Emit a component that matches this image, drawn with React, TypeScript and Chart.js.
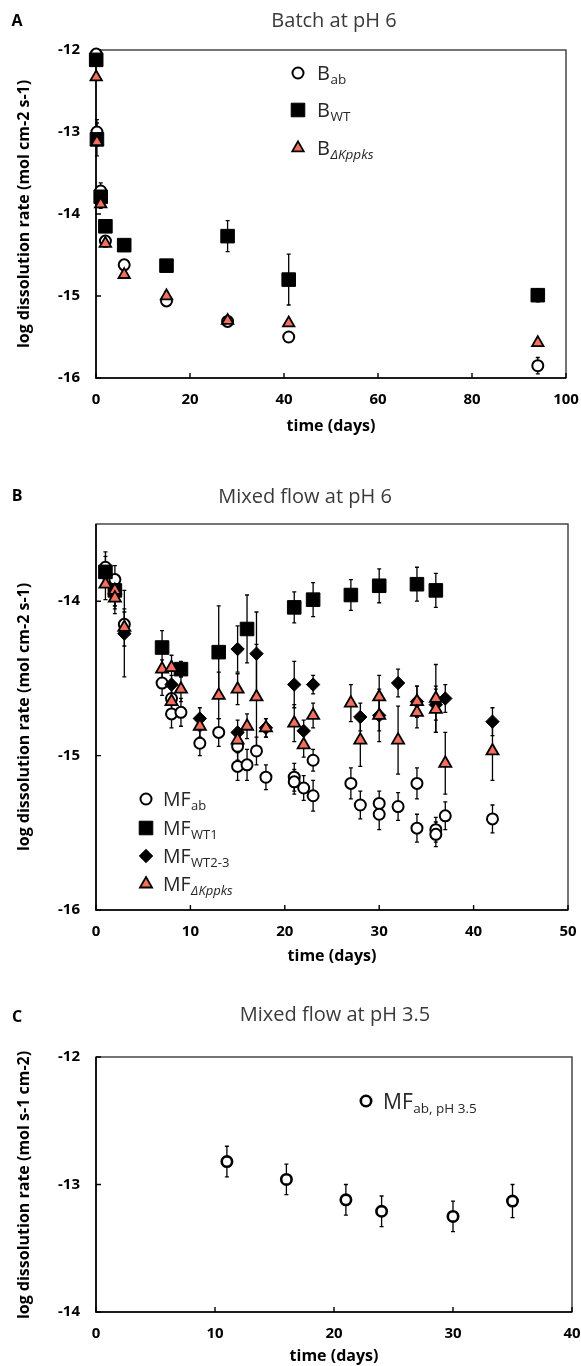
import React, { useEffect, useRef } from 'react';
import { Chart, registerables } from 'chart.js';

Chart.register(...registerables);

const FONT = '"Open Sans", "Noto Sans", sans-serif';

// ---------------- Panel A: Batch at pH 6 ----------------
const A_DAYS = [0.04, 0.2, 1, 2, 6, 15, 28, 41, 94];
const A_AB = [-12.05, -13.0, -13.72, -14.33, -14.62, -15.06, -15.31, -15.5, -15.85];
const A_AB_ERR = [0.03, 0.15, 0.1, 0.06, 0.04, 0.03, 0.04, 0.03, 0.1];
const A_WT = [-12.12, -13.09, -13.79, -14.15, -14.38, -14.63, -14.27, -14.8, -14.99];
const A_WT_ERR = [0.03, 0.2, 0.05, 0.05, 0.04, 0.03, 0.19, 0.31, 0.08];
const A_KP = [-12.33, -13.12, -13.88, -14.36, -14.74, -15.0, -15.3, -15.33, -15.57];
const A_KP_ERR = [0.03, 0.05, 0.05, 0.04, 0.04, 0.05, 0.05, 0.03, 0.04];
const A_X_TICKS = [0, 20, 40, 60, 80, 100];
const A_Y_TICKS = [-16, -15, -14, -13, -12];

// ---------------- Panel B: Mixed flow at pH 6 ----------------
const B_AB_DAYS = [1, 2, 3, 7, 8, 8, 9, 11, 13, 15, 15, 16, 17, 18, 21, 21, 22, 23, 23, 27, 28, 30, 30, 32, 34, 34, 36, 36, 37, 42];
const B_AB = [-13.78, -13.86, -14.15, -14.53, -14.63, -14.73, -14.72, -14.92, -14.85, -14.94, -15.07, -15.06, -14.97, -15.14, -15.14, -15.17, -15.21, -15.03, -15.26, -15.18, -15.32, -15.31, -15.38, -15.33, -15.18, -15.47, -15.48, -15.51, -15.39, -15.41];
const B_AB_ERR = [0.1, 0.09, 0.08, 0.08, 0.1, 0.09, 0.09, 0.08, 0.09, 0.09, 0.09, 0.1, 0.09, 0.08, 0.09, 0.08, 0.08, 0.07, 0.1, 0.1, 0.09, 0.08, 0.1, 0.09, 0.1, 0.09, 0.08, 0.08, 0.09, 0.09];

const B_WT1_DAYS = [1, 2, 7, 9, 13, 16, 21, 23, 27, 30, 34, 36];
const B_WT1 = [-13.81, -13.93, -14.3, -14.44, -14.33, -14.18, -14.04, -13.99, -13.96, -13.9, -13.89, -13.93];
const B_WT1_ERR = [0.1, 0.1, 0.11, 0.05, 0.3, 0.22, 0.1, 0.11, 0.1, 0.11, 0.11, 0.11];

const B_WT23_DAYS = [1, 2, 3, 8, 11, 15, 15, 17, 18, 21, 22, 23, 28, 30, 32, 34, 36, 37, 42];
const B_WT23 = [-13.83, -13.95, -14.21, -14.54, -14.76, -14.31, -14.85, -14.34, -14.82, -14.54, -14.84, -14.54, -14.75, -14.74, -14.53, -14.65, -14.67, -14.63, -14.78];
const B_WT23_ERR = [0.08, 0.1, 0.28, 0.06, 0.07, 0.15, 0.08, 0.27, 0.06, 0.15, 0.07, 0.06, 0.09, 0.1, 0.09, 0.1, 0.1, 0.09, 0.09];

const B_KP_DAYS = [1, 2, 2, 3, 7, 8, 8, 9, 11, 13, 15, 15, 16, 17, 18, 21, 22, 23, 27, 28, 30, 30, 32, 34, 34, 36, 36, 37, 42];
const B_KP = [-13.89, -13.93, -13.98, -14.17, -14.44, -14.43, -14.65, -14.57, -14.81, -14.61, -14.57, -14.9, -14.81, -14.62, -14.82, -14.79, -14.93, -14.74, -14.66, -14.9, -14.62, -14.74, -14.9, -14.65, -14.72, -14.63, -14.7, -15.05, -14.97];
const B_KP_ERR = [0.1, 0.1, 0.1, 0.12, 0.06, 0.08, 0.08, 0.08, 0.07, 0.15, 0.1, 0.08, 0.08, 0.34, 0.06, 0.12, 0.08, 0.08, 0.12, 0.17, 0.14, 0.17, 0.22, 0.1, 0.1, 0.22, 0.15, 0.2, 0.19];

const B_X_TICKS = [0, 10, 20, 30, 40, 50];
const B_Y_TICKS = [-16, -15, -14];

// ---------------- Panel C: Mixed flow at pH 3.5 ----------------
const C_DAYS = [11, 16, 21, 24, 30, 35];
const C_AB = [-12.82, -12.96, -13.12, -13.21, -13.25, -13.13];
const C_AB_ERR = [0.12, 0.12, 0.12, 0.12, 0.12, 0.13];
const C_X_TICKS = [0, 10, 20, 30, 40];
const C_Y_TICKS = [-14, -13, -12];

type MarkerSpec = { pointStyle: string; radius: number; bg: string; border: string; bw: number };

const SALMON = '#F4705E';
const M_CIRCLE: MarkerSpec = { pointStyle: 'circle', radius: 5.5, bg: '#ffffff', border: '#000000', bw: 2 };
const M_CIRCLE_C: MarkerSpec = { pointStyle: 'circle', radius: 5.2, bg: '#ffffff', border: '#000000', bw: 2.6 };
const M_SQUARE: MarkerSpec = { pointStyle: 'rect', radius: 9.6, bg: '#000000', border: '#000000', bw: 1 };
const M_DIAMOND: MarkerSpec = { pointStyle: 'rectRot', radius: 6.7, bg: '#000000', border: '#000000', bw: 1 };
const M_TRI_A: MarkerSpec = { pointStyle: 'triangle', radius: 6.6, bg: SALMON, border: '#000000', bw: 1.8 };
const M_TRI_B: MarkerSpec = { pointStyle: 'triangle', radius: 7, bg: SALMON, border: '#000000', bw: 1.8 };

type Series = { days: number[]; values: number[]; errors: number[]; marker: MarkerSpec; order: number };
type LegendItem = { marker: MarkerSpec; main: string; sub: string; italic?: boolean };
type TextItem = { text: string; x: number; y: number; size: number; bold?: boolean; color?: string; rotate?: boolean };

type Panel = {
  width: number;
  height: number;
  top: number;
  area: { left: number; right: number; top: number; bottom: number };
  xMin: number; xMax: number; xTicks: number[];
  yMin: number; yMax: number; yTicks: number[];
  series: Series[];
  legend: { markerX: number; textX: number; ys: number[]; size: number; subSize: number; items: LegendItem[] };
  texts: TextItem[];
};

function drawMarker(ctx: CanvasRenderingContext2D, m: MarkerSpec, x: number, y: number) {
  ctx.save();
  ctx.fillStyle = m.bg;
  ctx.strokeStyle = m.border;
  ctx.lineWidth = m.bw;
  ctx.beginPath();
  const r = m.radius;
  if (m.pointStyle === 'circle') {
    ctx.arc(x, y, r, 0, Math.PI * 2);
  } else if (m.pointStyle === 'rect') {
    const s = Math.SQRT1_2 * r;
    ctx.rect(x - s, y - s, 2 * s, 2 * s);
  } else if (m.pointStyle === 'rectRot') {
    ctx.moveTo(x, y - r);
    ctx.lineTo(x + r, y);
    ctx.lineTo(x, y + r);
    ctx.lineTo(x - r, y);
    ctx.closePath();
  } else {
    ctx.moveTo(x, y - r);
    ctx.lineTo(x + r * Math.sin((2 * Math.PI) / 3), y - r * Math.cos((2 * Math.PI) / 3));
    ctx.lineTo(x - r * Math.sin((2 * Math.PI) / 3), y - r * Math.cos((2 * Math.PI) / 3));
    ctx.closePath();
  }
  ctx.fill();
  if (m.bw > 0) ctx.stroke();
  ctx.restore();
}

function makeDecor(p: Panel) {
  return {
    id: 'panelDecor',
    beforeDatasetsDraw(chart: any) {
      const ctx: CanvasRenderingContext2D = chart.ctx;
      const a = chart.chartArea;
      const xs = chart.scales.x;
      const ys = chart.scales.y;
      ctx.save();
      // frame
      ctx.strokeStyle = '#3a3a3a';
      ctx.lineWidth = 1.4;
      ctx.strokeRect(a.left, a.top, a.right - a.left, a.bottom - a.top);
      ctx.strokeStyle = '#000';
      ctx.lineWidth = 1.6;
      ctx.beginPath();
      ctx.moveTo(a.left, a.top);
      ctx.lineTo(a.left, a.bottom);
      ctx.lineTo(a.right, a.bottom);
      ctx.stroke();
      // inward tick marks
      ctx.lineWidth = 1.4;
      ctx.beginPath();
      p.xTicks.forEach((v) => {
        const px = xs.getPixelForValue(v);
        ctx.moveTo(px, a.bottom);
        ctx.lineTo(px, a.bottom - 5);
      });
      p.yTicks.forEach((v) => {
        const py = ys.getPixelForValue(v);
        ctx.moveTo(a.left, py);
        ctx.lineTo(a.left + 5, py);
      });
      ctx.stroke();
      // error bars
      ctx.strokeStyle = '#000';
      ctx.lineWidth = 1.3;
      chart.data.datasets.forEach((ds: any) => {
        const errs: number[] = ds.errors || [];
        ds.data.forEach((pt: any, i: number) => {
          const e = errs[i] || 0;
          if (!e) return;
          const px = xs.getPixelForValue(pt.x);
          const y1 = ys.getPixelForValue(pt.y + e);
          const y2 = ys.getPixelForValue(pt.y - e);
          ctx.beginPath();
          ctx.moveTo(px, y1);
          ctx.lineTo(px, y2);
          ctx.moveTo(px - 2, y1);
          ctx.lineTo(px + 2, y1);
          ctx.moveTo(px - 2, y2);
          ctx.lineTo(px + 2, y2);
          ctx.stroke();
        });
      });
      ctx.restore();
    },
    afterDraw(chart: any) {
      const ctx: CanvasRenderingContext2D = chart.ctx;
      ctx.save();
      // legend
      const lg = p.legend;
      lg.items.forEach((it, i) => {
        const y = lg.ys[i];
        drawMarker(ctx, it.marker, lg.markerX, y);
        ctx.fillStyle = '#262626';
        ctx.textAlign = 'left';
        ctx.textBaseline = 'alphabetic';
        ctx.font = `${lg.size}px ${FONT}`;
        const base = y + lg.size * 0.36;
        ctx.fillText(it.main, lg.textX, base);
        const w = ctx.measureText(it.main).width;
        ctx.font = `${it.italic ? 'italic ' : ''}${lg.subSize}px ${FONT}`;
        ctx.fillText(it.sub, lg.textX + w + 0.5, base + lg.size * 0.2);
      });
      // texts
      p.texts.forEach((t) => {
        ctx.save();
        ctx.fillStyle = t.color || '#000';
        ctx.font = `${t.bold ? 'bold ' : ''}${t.size}px ${FONT}`;
        ctx.textAlign = 'center';
        ctx.textBaseline = 'middle';
        ctx.translate(t.x, t.y);
        if (t.rotate) ctx.rotate(-Math.PI / 2);
        ctx.fillText(t.text, 0, 0);
        ctx.restore();
      });
      ctx.restore();
    },
  };
}

function buildConfig(p: Panel): any {
  const tickFont = { family: FONT, size: 15, weight: 'bold' };
  return {
    type: 'scatter',
    data: {
      datasets: p.series.map((s) => ({
        data: s.days.map((d, i) => ({ x: d, y: s.values[i] })),
        errors: s.errors,
        order: s.order,
        pointStyle: s.marker.pointStyle,
        pointRadius: s.marker.radius,
        pointBackgroundColor: s.marker.bg,
        pointBorderColor: s.marker.border,
        pointBorderWidth: s.marker.bw,
        showLine: false,
        clip: false,
      })),
    },
    options: {
      responsive: false,
      animation: false,
      events: [],
      layout: { padding: { left: 0, top: p.area.top, right: p.width - p.area.right, bottom: 0 } },
      plugins: { legend: { display: false }, tooltip: { enabled: false }, title: { display: false } },
      scales: {
        x: {
          type: 'linear',
          min: p.xMin,
          max: p.xMax,
          afterBuildTicks: (s: any) => {
            s.ticks = p.xTicks.map((v) => ({ value: v }));
          },
          afterFit: (s: any) => {
            s.height = p.height - p.area.bottom;
            s.paddingLeft = 0;
            s.paddingRight = 0;
          },
          ticks: { font: tickFont, color: '#000', padding: 13, maxRotation: 0, autoSkip: false, callback: (v: number) => String(v) },
          grid: { display: false, drawTicks: false },
          border: { display: false },
        },
        y: {
          type: 'linear',
          min: p.yMin,
          max: p.yMax,
          afterBuildTicks: (s: any) => {
            s.ticks = p.yTicks.map((v) => ({ value: v }));
          },
          afterFit: (s: any) => {
            s.width = p.area.left;
            s.paddingTop = 0;
            s.paddingBottom = 0;
          },
          ticks: { font: tickFont, color: '#000', padding: 16, autoSkip: false, callback: (v: number) => String(v) },
          grid: { display: false, drawTicks: false },
          border: { display: false },
        },
      },
    },
    plugins: [makeDecor(p)],
  };
}

const W = 581;

const PANEL_A: Panel = {
  width: W,
  height: 440,
  top: 0,
  area: { left: 96, right: 566, top: 50, bottom: 378 },
  xMin: 0, xMax: 100, xTicks: A_X_TICKS,
  yMin: -16, yMax: -12, yTicks: A_Y_TICKS,
  series: [
    { days: A_DAYS, values: A_AB, errors: A_AB_ERR, marker: M_CIRCLE, order: 2 },
    { days: A_DAYS, values: A_WT, errors: A_WT_ERR, marker: M_SQUARE, order: 1 },
    { days: A_DAYS, values: A_KP, errors: A_KP_ERR, marker: M_TRI_A, order: 0 },
  ],
  legend: {
    markerX: 298,
    textX: 317,
    ys: [73, 110, 148],
    size: 20,
    subSize: 13.5,
    items: [
      { marker: M_CIRCLE, main: 'B', sub: 'ab' },
      { marker: M_SQUARE, main: 'B', sub: 'WT' },
      { marker: M_TRI_A, main: 'B', sub: 'ΔKppks', italic: true },
    ],
  },
  texts: [
    { text: 'A', x: 17, y: 21, size: 16, bold: true },
    { text: 'Batch at pH 6', x: 334, y: 21, size: 20, color: '#3a3a3a' },
    { text: 'log dissolution rate (mol cm-2 s-1)', x: 24, y: 214, size: 16, bold: true, rotate: true },
    { text: 'time (days)', x: 331, y: 426, size: 16, bold: true },
  ],
};

const PANEL_B: Panel = {
  width: W,
  height: 535,
  top: 440,
  area: { left: 96, right: 568, top: 84, bottom: 470 },
  xMin: 0, xMax: 50, xTicks: B_X_TICKS,
  yMin: -16, yMax: -13.5, yTicks: B_Y_TICKS,
  series: [
    { days: B_AB_DAYS, values: B_AB, errors: B_AB_ERR, marker: M_CIRCLE, order: 3 },
    { days: B_WT1_DAYS, values: B_WT1, errors: B_WT1_ERR, marker: M_SQUARE, order: 2 },
    { days: B_WT23_DAYS, values: B_WT23, errors: B_WT23_ERR, marker: M_DIAMOND, order: 1 },
    { days: B_KP_DAYS, values: B_KP, errors: B_KP_ERR, marker: M_TRI_B, order: 0 },
  ],
  legend: {
    markerX: 146,
    textX: 163,
    ys: [359, 388, 416, 444],
    size: 19.5,
    subSize: 13,
    items: [
      { marker: M_CIRCLE, main: 'MF', sub: 'ab' },
      { marker: M_SQUARE, main: 'MF', sub: 'WT1' },
      { marker: M_DIAMOND, main: 'MF', sub: 'WT2-3' },
      { marker: M_TRI_B, main: 'MF', sub: 'ΔKppks', italic: true },
    ],
  },
  texts: [
    { text: 'B', x: 17, y: 56, size: 16, bold: true },
    { text: 'Mixed flow at pH 6', x: 305, y: 57, size: 20, color: '#3a3a3a' },
    { text: 'log dissolution rate (mol cm-2 s-1)', x: 24, y: 277, size: 16, bold: true, rotate: true },
    { text: 'time (days)', x: 332, y: 516, size: 16, bold: true },
  ],
};

const PANEL_C: Panel = {
  width: W,
  height: 391,
  top: 975,
  area: { left: 96, right: 572, top: 82, bottom: 337 },
  xMin: 0, xMax: 40, xTicks: C_X_TICKS,
  yMin: -14, yMax: -12, yTicks: C_Y_TICKS,
  series: [{ days: C_DAYS, values: C_AB, errors: C_AB_ERR, marker: M_CIRCLE_C, order: 0 }],
  legend: {
    markerX: 366,
    textX: 383,
    ys: [126],
    size: 21,
    subSize: 13.5,
    items: [{ marker: M_CIRCLE_C, main: 'MF', sub: 'ab, pH 3.5' }],
  },
  texts: [
    { text: 'C', x: 17, y: 42, size: 16, bold: true },
    { text: 'Mixed flow at pH 3.5', x: 335, y: 40, size: 20, color: '#3a3a3a' },
    { text: 'log dissolution rate (mol s-1 cm-2)', x: 24, y: 210, size: 16, bold: true, rotate: true },
    { text: 'time (days)', x: 334, y: 381, size: 16, bold: true },
  ],
};

function PanelChart({ panel }: { panel: Panel }) {
  const ref = useRef<HTMLCanvasElement | null>(null);
  useEffect(() => {
    if (!ref.current) return;
    const chart = new Chart(ref.current, buildConfig(panel));
    return () => chart.destroy();
  }, [panel]);
  return (
    <canvas
      ref={ref}
      width={panel.width}
      height={panel.height}
      style={{ position: 'absolute', left: 0, top: panel.top, width: panel.width, height: panel.height, display: 'block' }}
    />
  );
}

export default function App() {
  useEffect(() => {
    document.body.style.margin = '0';
    document.body.style.background = '#ffffff';
  }, []);
  return (
    <div style={{ position: 'relative', width: W, height: 1366, overflow: 'hidden', background: '#fff' }}>
      <PanelChart panel={PANEL_A} />
      <PanelChart panel={PANEL_B} />
      <PanelChart panel={PANEL_C} />
    </div>
  );
}
